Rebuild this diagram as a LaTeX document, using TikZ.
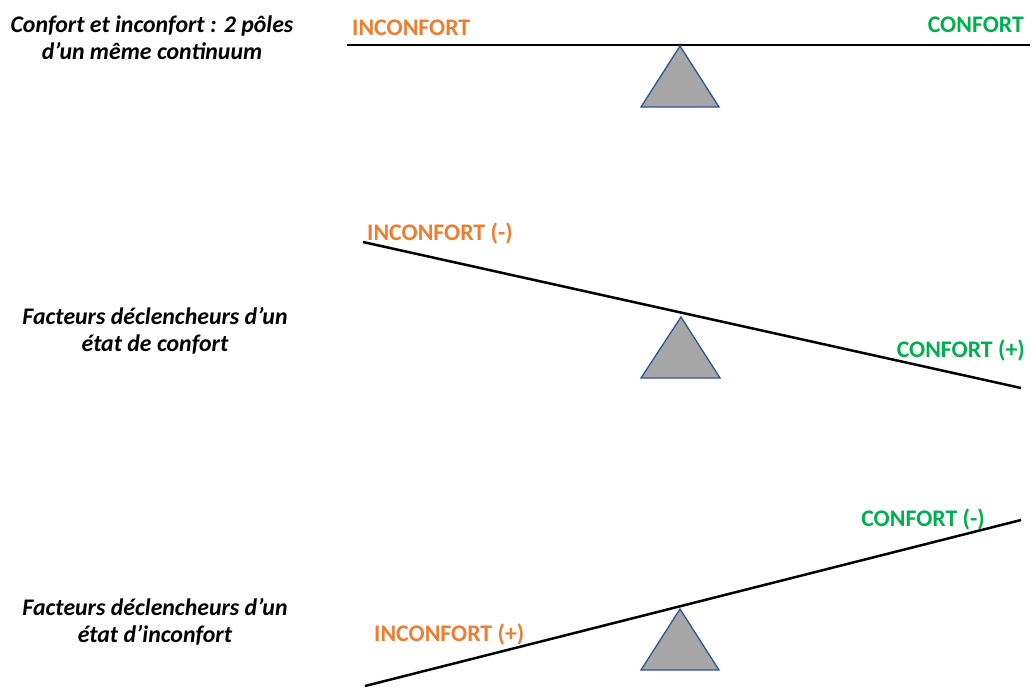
\documentclass[tikz,border=0pt]{standalone}
\usepackage{fontspec}
\setmainfont{Carlito}
\definecolor{orng}{HTML}{ED7D31}
\definecolor{grn}{HTML}{00B050}
\definecolor{tribd}{HTML}{2F5597}
\definecolor{trifl}{HTML}{A6A6A6}
\begin{document}
\begin{tikzpicture}[x=1pt,y=-1pt,
  beam/.style={line width=2.5pt,black},
  fulcrum/.style={fill=trifl,draw=tribd,line width=1.3pt,line join=miter},
  lab/.style={font=\fontsize{23.8}{28}\selectfont\bfseries,inner sep=0pt},
  side/.style={font=\fontsize{23.8}{27}\selectfont\bfseries\itshape,align=center,inner sep=0pt}]
\useasboundingbox (0,0) rectangle (1034,686);
% row 1
\node[side] (t1) at (152,38) {Confort et inconfort : 2 pôles\\d’un même continuum};
\coordinate (b1a) at (347,45);
\coordinate (b1b) at (1030,45);
\draw[beam] (b1a) -- (b1b);
\draw[fulcrum] (680,46) -- (719,107) -- (641,107) -- cycle;
\node[lab,text=orng,anchor=west] (i1) at (352,28) {INCONFORT};
\node[lab,text=grn,anchor=east] (c1) at (1024,25) {CONFORT};
% row 2
\node[side] (t2) at (155,331) {Facteurs déclencheurs d’un\\état de confort};
\coordinate (b2a) at (363,242);
\coordinate (b2b) at (1021,388);
\draw[beam] (b2a) -- (b2b);
\draw[fulcrum] (681,317) -- (720,378) -- (641,378) -- cycle;
\node[lab,text=orng,anchor=west] (i2) at (367,233) {INCONFORT (-)};
\node[lab,text=grn,anchor=east] (c2) at (1025,350) {CONFORT (+)};
% row 3
\node[side] (t3) at (155,622) {Facteurs déclencheurs d’un\\état d’inconfort};
\coordinate (b3a) at (365,686);
\coordinate (b3b) at (1021,520);
\draw[beam] (b3a) -- (b3b);
\draw[fulcrum] (680,609) -- (719,670) -- (641,670) -- cycle;
\node[lab,text=orng,anchor=west] (i3) at (374,634) {INCONFORT (+)};
\node[lab,text=grn,anchor=east] (c3) at (985,519) {CONFORT (-)};
\end{tikzpicture}
\end{document}
